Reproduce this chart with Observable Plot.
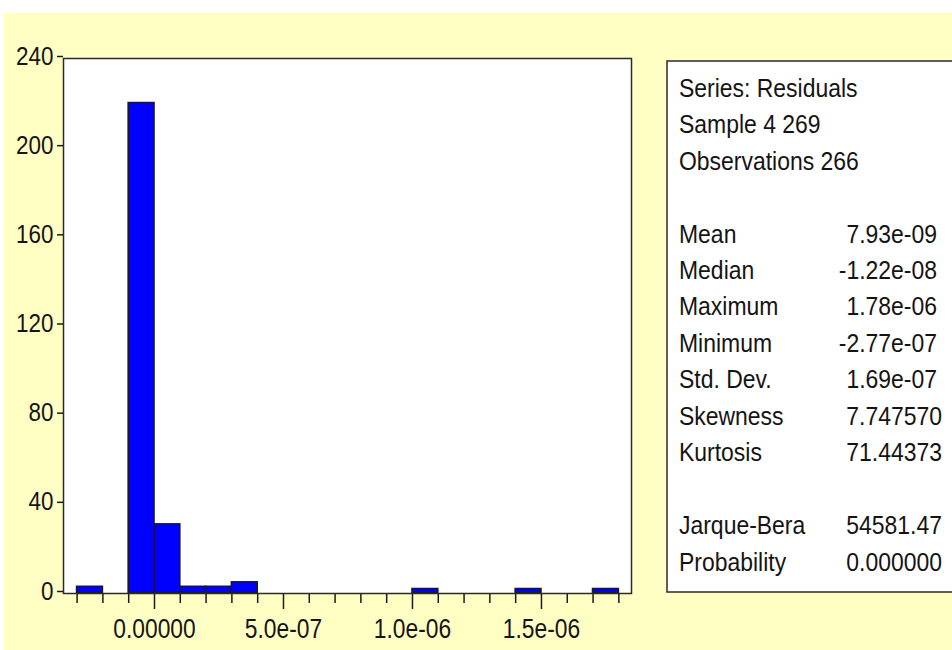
<!DOCTYPE html>
<html><head><meta charset="utf-8">
<script src="https://cdn.jsdelivr.net/npm/d3@7"></script>
<script src="https://cdn.jsdelivr.net/npm/@observablehq/plot@0.6"></script>
<style>
body{margin:0;width:952px;height:650px;overflow:hidden;background:#fff;position:relative;font-family:"Liberation Sans",Arial,sans-serif;}
#bg{position:absolute;left:4px;top:13px;right:0;bottom:0;background:#ffffc4;}
#chart{position:absolute;left:0;top:0;}
#panel{position:absolute;left:0;top:0;}
</style></head><body>
<div id="bg"></div><div id="chart"></div><svg id="panel" width="952" height="650"></svg>
<script>
// histogram bins (left edges) and counts
const binStarts = [-3.0e-7, -2.0e-7, -1.0e-7, 0, 1.0e-7, 2.0e-7, 3.0e-7, 4.0e-7, 5.0e-7, 6.0e-7, 7.0e-7,
                   8.0e-7, 9.0e-7, 1.0e-6, 1.1e-6, 1.2e-6, 1.3e-6, 1.4e-6, 1.5e-6, 1.6e-6, 1.7e-6];
const binWidth = 1.0e-7;
const counts = [3, 0, 220, 31, 3, 3, 5, 0, 0, 0, 0, 0, 0, 2, 0, 0, 0, 2, 0, 0, 2];

const yTicks = [0, 40, 80, 120, 160, 200, 240];
const xMajorTicks = [0, 5.0e-7, 1.0e-6, 1.5e-6];
const xMajorLabels = ["0.00000", "5.0e-07", "1.0e-06", "1.5e-06"];
const xMinorTicks = [-3e-7, -2e-7, -1e-7, 1e-7, 2e-7, 3e-7, 4e-7, 6e-7, 7e-7, 8e-7, 9e-7,
                     1.1e-6, 1.2e-6, 1.3e-6, 1.4e-6, 1.6e-6, 1.7e-6, 1.8e-6];
const xDomain = [-3.527e-7, 1.849e-6];
const yDomain = [0, 240];

// statistics panel
const headerLines = ["Series: Residuals", "Sample 4 269", "Observations 266"];
const statNames = ["Mean", "Median", "Maximum", "Minimum", "Std. Dev.", "Skewness", "Kurtosis"];
const statValues = ["7.93e-09", "-1.22e-08", "1.78e-06", "-2.77e-07", "1.69e-07", "7.747570", "71.44373"];
const testNames = ["Jarque-Bera", "Probability"];
const testValues = ["54581.47", "0.000000"];

const bins = binStarts.map((x0, i) => ({x1: x0, x2: x0 + binWidth, count: counts[i]})).filter(d => d.count > 0);

const plot = Plot.plot({
  width: 660, height: 650,
  marginLeft: 63, marginRight: 29, marginTop: 58, marginBottom: 57,
  style: {background: "transparent", fontFamily: "'Liberation Sans', Arial, sans-serif", color: "#151515"},
  x: {domain: xDomain},
  y: {domain: yDomain},
  marks: [
    Plot.frame({fill: "white", stroke: "none"}),
    Plot.rectY(bins, {x1: "x1", x2: "x2", y: "count", fill: "#0000ff", stroke: "#1a1a1a", strokeWidth: 1.6, inset: 0}),
    Plot.axisY({ticks: yTicks, tickSize: 6, tickPadding: 4, fontSize: 25, strokeWidth: 1.5, stroke: "#1a1a1a", label: null, dy: -2, tickFormat: d => String(d)}),
    Plot.axisX({ticks: xMinorTicks, tickSize: 10, strokeWidth: 1.5, stroke: "#1a1a1a", label: null, tickFormat: () => ""}),
    Plot.axisX({ticks: xMajorTicks, tickSize: 16, tickPadding: 8, fontSize: 28.5, strokeWidth: 1.5, stroke: "#1a1a1a", label: null,
                tickFormat: d => xMajorLabels[xMajorTicks.indexOf(d)]}),
    Plot.frame({stroke: "#2a2a2a", strokeWidth: 1.5})
  ]
});
document.getElementById("chart").appendChild(plot);

// condense tick labels to the narrow face of the original
d3.select(plot).selectAll("text").each(function() {
  const t = this.textContent;
  if (xMajorLabels.includes(t)) {
    const w = this.getComputedTextLength();
    this.setAttribute("textLength", (w * 0.8).toFixed(1));
    this.setAttribute("lengthAdjust", "spacingAndGlyphs");
  } else if (yTicks.map(String).includes(t)) {
    const w = this.getComputedTextLength();
    this.setAttribute("textLength", (w * 0.9).toFixed(1));
    this.setAttribute("lengthAdjust", "spacingAndGlyphs");
  }
});

// statistics panel
const panel = d3.select("#panel");
panel.append("rect").attr("x", 667).attr("y", 61).attr("width", 320).attr("height", 531)
  .attr("fill", "white").attr("stroke", "#2a2a2a").attr("stroke-width", 1.5);

const baseline0 = 96.7, step = 36.45, labelX = 679;
const rows = [];
headerLines.forEach((t, i) => rows.push({row: i, label: t, value: null}));
statNames.forEach((t, i) => rows.push({row: 4 + i, label: t, value: statValues[i]}));
testNames.forEach((t, i) => rows.push({row: 12 + i, label: t, value: testValues[i]}));

const g = panel.append("g").attr("font-family", "'Liberation Sans', Arial, sans-serif").attr("font-size", 25.5).attr("fill", "#141414");
rows.forEach(r => {
  const y = baseline0 + r.row * step;
  g.append("text").attr("transform", `translate(${labelX},${y}) scale(0.9,1)`).attr("text-anchor", "start").text(r.label);
  if (r.value !== null) {
    const vx = r.value.includes("e") ? 937 : 942;
    g.append("text").attr("transform", `translate(${vx},${y}) scale(0.9,1)`).attr("text-anchor", "end").text(r.value);
  }
});
</script>
</body></html>
